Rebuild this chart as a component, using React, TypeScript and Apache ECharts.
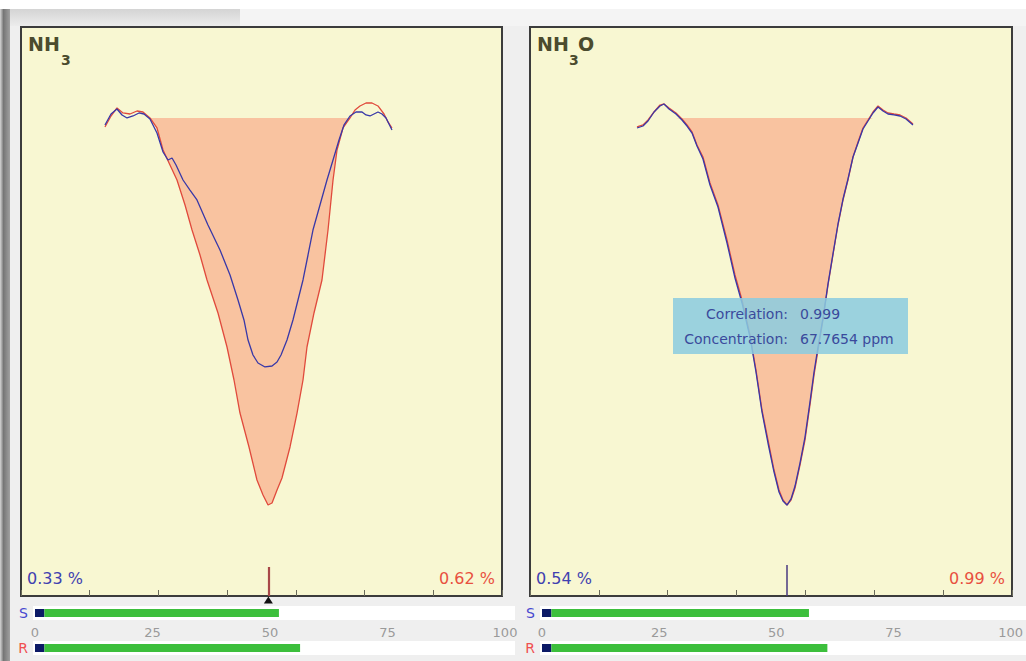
import React, { useEffect, useRef } from 'react';
import * as echarts from 'echarts';

// ---------- data ----------
const BASE_LEVEL = 84.0; // flat top of the integrated band (y units)

const nh3Ref: number[][] = [
  [1.222, 82.43], [1.31, 84.36], [1.397, 85.77], [1.484, 84.89], [1.586, 84.71], [1.688, 85.24],
  [1.775, 85.06], [1.877, 84.01], [1.979, 82.25], [2.067, 78.38], [2.168, 75.75], [2.27, 73.11],
  [2.387, 68.72], [2.489, 64.32], [2.605, 59.93], [2.707, 55.54], [2.867, 49.74], [2.998, 43.76],
  [3.1, 37.96], [3.187, 32.16], [3.318, 26.19], [3.434, 20.39], [3.522, 17.75], [3.595, 15.99],
  [3.653, 16.34], [3.726, 18.63], [3.798, 20.74], [3.915, 26.19], [4.017, 32.16], [4.104, 37.96],
  [4.162, 43.76], [4.264, 49.74], [4.38, 55.54], [4.468, 64.32], [4.541, 73.11], [4.599, 78.38],
  [4.686, 82.25], [4.788, 84.01], [4.861, 85.41], [4.933, 86.12], [5.021, 86.64], [5.108, 86.64],
  [5.195, 86.12], [5.283, 84.71], [5.341, 83.31], [5.399, 82.25],
];
const nh3Sample: number[][] = [
  [1.222, 82.78], [1.31, 84.71], [1.397, 85.59], [1.47, 84.54], [1.543, 84.01], [1.63, 84.36],
  [1.717, 84.89], [1.79, 84.71], [1.877, 83.83], [1.979, 81.37], [2.067, 78.03], [2.139, 76.63],
  [2.198, 76.98], [2.256, 75.75], [2.358, 73.11], [2.459, 71.35], [2.561, 69.6], [2.721, 65.2],
  [2.896, 60.81], [3.042, 56.42], [3.158, 52.02], [3.245, 48.51], [3.304, 44.99], [3.376, 42.36],
  [3.449, 40.95], [3.551, 40.25], [3.653, 40.42], [3.726, 41.13], [3.784, 42.36], [3.871, 44.99],
  [3.958, 48.51], [4.031, 52.02], [4.104, 55.54], [4.177, 59.93], [4.249, 64.32], [4.351, 68.72],
  [4.453, 73.11], [4.541, 76.63], [4.628, 80.14], [4.701, 82.78], [4.788, 84.36], [4.875, 85.06],
  [4.963, 85.06], [5.021, 84.54], [5.079, 84.36], [5.137, 84.71], [5.195, 85.06], [5.254, 84.71],
  [5.312, 84.01], [5.399, 81.9],
];
const nh3oRef: number[][] = [
  [1.554, 82.43], [1.641, 82.78], [1.714, 83.66], [1.801, 85.06], [1.888, 86.29], [1.946, 86.47],
  [2.019, 85.77], [2.12, 84.89], [2.207, 83.83], [2.28, 82.78], [2.353, 81.55], [2.425, 79.26],
  [2.512, 77.15], [2.614, 72.58], [2.73, 68.72], [2.861, 62.57], [2.977, 56.42], [3.079, 52.02],
  [3.195, 45.87], [3.282, 39.72], [3.369, 32.69], [3.456, 27.42], [3.544, 22.14], [3.616, 18.63],
  [3.674, 16.87], [3.732, 15.99], [3.791, 16.87], [3.849, 18.98], [3.921, 23.02], [3.994, 27.42],
  [4.066, 33.57], [4.125, 38.84], [4.183, 43.23], [4.255, 48.51], [4.328, 54.66], [4.4, 59.93],
  [4.473, 65.2], [4.546, 69.6], [4.618, 73.11], [4.691, 77.15], [4.764, 79.79], [4.836, 82.25],
  [4.909, 83.66], [4.981, 85.06], [5.054, 86.12], [5.127, 85.41], [5.199, 84.89], [5.286, 84.71],
  [5.374, 84.54], [5.461, 84.01], [5.562, 82.95],
];
const nh3oSample: number[][] = [
  [1.554, 82.25], [1.641, 82.6], [1.714, 83.48], [1.801, 85.06], [1.888, 86.12], [1.946, 86.47],
  [2.019, 85.59], [2.12, 84.71], [2.207, 83.66], [2.28, 82.6], [2.353, 81.37], [2.425, 79.09],
  [2.512, 76.8], [2.614, 72.23], [2.73, 68.37], [2.861, 62.04], [2.977, 55.89], [3.079, 51.5],
  [3.195, 45.52], [3.282, 39.37], [3.369, 32.34], [3.456, 26.89], [3.544, 21.79], [3.616, 18.28],
  [3.674, 16.7], [3.732, 15.99], [3.791, 17.05], [3.849, 19.33], [3.921, 23.37], [3.994, 27.94],
  [4.066, 34.1], [4.125, 39.37], [4.183, 43.76], [4.255, 48.86], [4.328, 54.84], [4.4, 60.11],
  [4.473, 65.38], [4.546, 69.77], [4.618, 73.29], [4.691, 77.15], [4.764, 79.62], [4.836, 82.07],
  [4.909, 83.48], [4.981, 84.89], [5.054, 85.94], [5.127, 85.24], [5.199, 84.71], [5.286, 84.54],
  [5.374, 84.36], [5.461, 83.83], [5.562, 82.78],
];

const panelRefs = [nh3Ref, nh3oRef];
const panelSamples = [nh3Sample, nh3oSample];
const markerX = [3.6, 3.73];
const markerH = [5.1, 5.45];
const sampleFit = ['0.33 %', '0.54 %'];
const refFit = ['0.62 %', '0.99 %'];
const sliderS = [51.9, 56.8];
const sliderR = [56.4, 60.9];
const HANDLE = 2;
const sliderTicks = [0, 25, 50, 75, 100];
const correlation = '0.999';
const concentration = '67.7654 ppm';

// ---------- layout ----------
const PANEL_LEFT = [21, 530];
const PANEL_W = [481, 482];
const PANEL_TOP = 27;
const PANEL_H = 569;
const SL_LEFT = [35, 542];
const SL_W = 470;

const FONT = 'DejaVu Sans';

// keep only the central absorption dip below the base level for the filled band
function bandData(d: number[][]) {
  let m = 0;
  d.forEach((pt, i) => { if (pt[1] < d[m][1]) m = i; });
  let L = m;
  while (L > 0 && d[L][1] < BASE_LEVEL) L--;
  let R = m;
  while (R < d.length - 1 && d[R][1] < BASE_LEVEL) R++;
  return d.map(([x, y], i) => [x, i < L || i > R ? BASE_LEVEL : Math.min(y, BASE_LEVEL)]);
}

export default function App() {
  const ref = useRef<HTMLDivElement>(null);
  useEffect(() => {
    if (!ref.current) return;
    const chart = echarts.init(ref.current, undefined, { renderer: 'svg' });

    const grid: any[] = [];
    const xAxis: any[] = [];
    const yAxis: any[] = [];
    const series: any[] = [];

    // panels: grid / axis indices 0 and 1
    for (let p = 0; p < 2; p++) {
      grid.push({
        left: PANEL_LEFT[p], top: PANEL_TOP, width: PANEL_W[p], height: PANEL_H,
        show: true, backgroundColor: '#f8f7d2', borderColor: '#3c3c3c', borderWidth: 2,
      });
      xAxis.push({
        type: 'value', gridIndex: p, min: 0, max: 7, interval: 1,
        axisLine: { show: false }, axisLabel: { show: false }, splitLine: { show: false },
        axisTick: { show: true, inside: true, length: 6, lineStyle: { color: '#6a6a5a', width: 1 } },
      });
      yAxis.push({ type: 'value', gridIndex: p, min: 0, max: 100, show: false });

      const refData = panelRefs[p];
      series.push({
        type: 'line', xAxisIndex: p, yAxisIndex: p, data: bandData(refData),
        symbol: 'none', lineStyle: { opacity: 0, width: 0 }, silent: true,
        areaStyle: { color: '#f9c3a0', opacity: 1, origin: BASE_LEVEL },
      });
      series.push({
        type: 'line', xAxisIndex: p, yAxisIndex: p, data: refData, symbol: 'none',
        lineStyle: { color: '#e04a3c', width: 1.3 }, silent: true,
      });
      const markLine = {
        silent: true, symbol: ['none', 'none'], label: { show: false },
        lineStyle: { color: p === 0 ? '#a84848' : '#4a3a80', width: p === 0 ? 2.2 : 1.5, type: 'solid' },
        data: [[{ coord: [markerX[p], 0] }, { coord: [markerX[p], markerH[p]] }]],
      };
      const markPoint = p === 0 ? {
        silent: true, symbol: 'triangle', symbolSize: [9, 7], symbolOffset: [0, 4],
        itemStyle: { color: '#111' }, label: { show: false },
        data: [{ coord: [markerX[p], 0] }],
      } : undefined;
      series.push({
        type: 'line', xAxisIndex: p, yAxisIndex: p, data: panelSamples[p], symbol: 'none',
        lineStyle: { color: '#3838a8', width: 1.3 }, silent: true,
        markLine, markPoint,
      });
    }

    // sliders: grid / axis indices 2..5
    for (let p = 0; p < 2; p++) {
      const rows = [
        { name: 'S', value: sliderS[p], top: 609, color: '#4848d0', labels: false },
        { name: 'R', value: sliderR[p], top: 644, color: '#f05050', labels: true },
      ];
      rows.forEach((r) => {
        const gi = grid.length;
        grid.push({ left: SL_LEFT[p], top: r.top, width: SL_W, height: 8 });
        xAxis.push({
          type: 'value', gridIndex: gi, min: 0, max: 100, interval: 25,
          position: 'top',
          axisLine: { show: false }, axisTick: { show: false }, splitLine: { show: false },
          axisLabel: {
            show: r.labels, margin: 5, color: '#9a9a9a', fontSize: 13, fontFamily: FONT,
            formatter: (v: number) => (sliderTicks.includes(v) ? String(v) : ''),
          },
        });
        yAxis.push({
          type: 'category', gridIndex: gi, data: [r.name],
          axisLine: { show: false }, axisTick: { show: false },
          axisLabel: { color: r.color, fontSize: 14, fontFamily: FONT, margin: 7 },
        });
        series.push({
          type: 'bar', xAxisIndex: gi, yAxisIndex: gi, stack: 'sl' + gi, data: [HANDLE],
          barWidth: 8, itemStyle: { color: '#0c1a66' }, silent: true,
        });
        series.push({
          type: 'bar', xAxisIndex: gi, yAxisIndex: gi, stack: 'sl' + gi, data: [r.value - HANDLE],
          barWidth: 8, itemStyle: { color: '#3cbf3c' }, silent: true,
        });
      });
    }

    const txt = (x: number, y: number, text: string, o: any = {}) => ({
      type: 'text', x, y, z: 50, silent: true,
      style: {
        text, fill: o.fill || '#333', fontSize: o.size || 12, fontWeight: o.weight || 'normal',
        fontFamily: FONT, align: o.align || 'left', verticalAlign: 'middle',
      },
    });

    const titleColor = '#4b4b2e';
    const graphic: any[] = [
      { type: 'rect', z: -5, shape: { x: 0, y: 0, width: 1026, height: 9 }, style: { fill: '#ffffff' } },
      { type: 'rect', z: -5, shape: { x: 0, y: 9, width: 1026, height: 17 }, style: { fill: '#f4f4f4' } },
      {
        type: 'rect', z: -4, shape: { x: 8, y: 9, width: 232, height: 17 },
        style: { fill: new echarts.graphic.LinearGradient(0, 0, 0, 1, [
          { offset: 0, color: '#d4d4d4' }, { offset: 1, color: '#ececec' }]) },
      },
      {
        type: 'rect', z: -3, shape: { x: 0, y: 9, width: 10, height: 652 },
        style: { fill: new echarts.graphic.LinearGradient(0, 0, 1, 0, [
          { offset: 0, color: '#d6d6d6' }, { offset: 0.35, color: '#767676' }, { offset: 1, color: '#a0a0a0' }]) },
      },
      // slider tracks
      { type: 'rect', z: -2, shape: { x: 33, y: 606, width: 482, height: 14 }, style: { fill: '#ffffff' } },
      { type: 'rect', z: -2, shape: { x: 33, y: 641, width: 482, height: 14 }, style: { fill: '#ffffff' } },
      { type: 'rect', z: -2, shape: { x: 540, y: 606, width: 486, height: 14 }, style: { fill: '#ffffff' } },
      { type: 'rect', z: -2, shape: { x: 540, y: 641, width: 486, height: 14 }, style: { fill: '#ffffff' } },
      // titles
      txt(28, 44, 'NH', { size: 19, weight: 'bold', fill: titleColor }),
      txt(61, 60, '3', { size: 14, weight: 'bold', fill: titleColor }),
      txt(537, 44, 'NH', { size: 19, weight: 'bold', fill: titleColor }),
      txt(569, 60, '3', { size: 14, weight: 'bold', fill: titleColor }),
      txt(578, 44, 'O', { size: 19, weight: 'bold', fill: titleColor }),
      // fit percentages
      txt(27, 578, sampleFit[0], { size: 16, fill: '#4040b0' }),
      txt(495, 578, refFit[0], { size: 16, fill: '#e85040', align: 'right' }),
      txt(536, 578, sampleFit[1], { size: 16, fill: '#4040b0' }),
      txt(1005, 578, refFit[1], { size: 16, fill: '#e85040', align: 'right' }),
      // info box
      {
        type: 'rect', z: 40, silent: true, shape: { x: 673, y: 298, width: 235, height: 56 },
        style: { fill: 'rgba(140,204,224,0.86)' },
      },
      txt(788, 314, 'Correlation:', { size: 14, fill: '#3a4a9c', align: 'right' }),
      txt(800, 314, correlation, { size: 14, fill: '#3a4a9c' }),
      txt(788, 339, 'Concentration:', { size: 14, fill: '#3a4a9c', align: 'right' }),
      txt(800, 339, concentration, { size: 14, fill: '#3a4a9c' }),
    ];

    chart.setOption({
      animation: false,
      backgroundColor: '#efefef',
      grid, xAxis, yAxis, series, graphic,
    });
    return () => chart.dispose();
  }, []);

  return (
    <div style={{ position: 'fixed', left: 0, top: 0, width: 1026, height: 661 }}>
      <div ref={ref} style={{ width: 1026, height: 661 }} />
    </div>
  );
}
